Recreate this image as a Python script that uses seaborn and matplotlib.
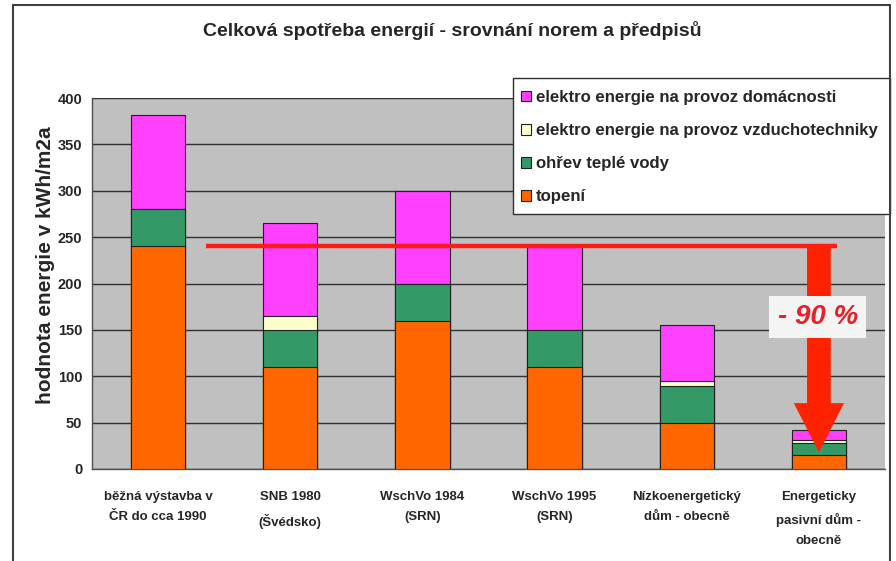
import matplotlib
matplotlib.use("Agg")
import matplotlib.pyplot as plt
from matplotlib.patches import FancyArrow, Patch, Rectangle
from matplotlib.lines import Line2D
import numpy as np
import pandas as pd
import seaborn as sns

# Categories (building standards) and energy components in kWh/m2a
categories = [
    "běžná výstavba v\nČR do cca 1990",
    "SNB 1980\n(Švédsko)",
    "WschVo 1984\n(SRN)",
    "WschVo 1995\n(SRN)",
    "Nízkoenergetický\ndům - obecně",
    "Energeticky\npasivní dům -\nobecně",
]
topeni = [240, 110, 160, 110, 50, 15]
ohrev_vody = [40, 40, 40, 40, 40, 13]
vzduchotechnika = [0, 15, 0, 0, 5, 3]
domacnost = [102, 100, 100, 90, 60, 11]

series_names = [
    "elektro energie na provoz domácnosti",
    "elektro energie na provoz vzduchotechniky",
    "ohřev teplé vody",
    "topení",
]
series_colors = ["#ff40ff", "#ffffcc", "#339966", "#ff6600"]

limit_value = 240
reduction_label = "- 90 %"
y_ticks = [0, 50, 100, 150, 200, 250, 300, 350, 400]

sns.set_style("white")
plt.rcParams["font.family"] = ["Liberation Sans", "DejaVu Sans"]

df = pd.DataFrame({
    "kategorie": categories,
    "topeni": topeni,
    "ohrev": ohrev_vody,
    "vzt": vzduchotechnika,
    "dom": domacnost,
})
# cumulative stack heights, drawn from the tallest layer downwards
df["c_topeni"] = df["topeni"]
df["c_ohrev"] = df["c_topeni"] + df["ohrev"]
df["c_vzt"] = df["c_ohrev"] + df["vzt"]
df["c_dom"] = df["c_vzt"] + df["dom"]
layers = ["c_dom", "c_vzt", "c_ohrev", "c_topeni"]

W, H = 896, 561
fig = plt.figure(figsize=(W / 100, H / 100), dpi=100)
ax = fig.add_axes([92 / W, 1 - 469 / H, (885 - 92) / W, (469 - 98) / H])
ax.set_facecolor("#c0c0c0")

for col, color in zip(layers, series_colors):
    sns.barplot(data=df, x="kategorie", y=col, color=color, width=0.41,
                edgecolor="#202020", linewidth=0.8, saturation=1, ax=ax,
                zorder=3)

ax.set_ylim(0, 400)
ax.set_xlim(-0.5, len(categories) - 0.5)
ax.set_yticks(y_ticks)
ax.set_yticklabels([str(v) for v in y_ticks], fontsize=10.5, fontweight="bold")
ax.yaxis.grid(True, color="#303030", linewidth=1.0, zorder=1)
ax.set_axisbelow(True)

# category labels between boundary ticks
ax.set_xticks(np.arange(len(categories)))
ax.set_xticklabels(categories, fontsize=9.5, fontweight="bold", linespacing=1.9)
ax.tick_params(axis="x", length=0, pad=16)
ax.set_xticks(np.arange(len(categories) + 1) - 0.5, minor=True)
ax.tick_params(axis="x", which="minor", length=4, color="#404040", direction="out")
ax.tick_params(axis="y", length=4, color="#404040", direction="out", pad=3)
ax.set_xlabel("")
ax.set_ylabel("hodnota energie v kWh/m2a", fontsize=15, fontweight="bold")
ax.yaxis.set_label_coords(-0.047, 0.55)

for side in ["left", "bottom"]:
    ax.spines[side].set_color("#505050")
    ax.spines[side].set_linewidth(1.0)
for side in ["top", "right"]:
    ax.spines[side].set_visible(False)

# limit line and reduction arrow
ax.plot([0.36, 5.14], [limit_value, limit_value], color="#ff1a1a", linewidth=3.2,
        zorder=5, solid_capstyle="butt")
ax.add_patch(FancyArrow(5.0, limit_value, 0, 18 - limit_value, width=0.18,
                        head_width=0.38, head_length=53, length_includes_head=True,
                        color="#ff2200", zorder=6, linewidth=0))
ax.text(4.99, 164, reduction_label, ha="center", va="center", fontsize=20,
        fontweight="bold", fontstyle="italic", color="#e8202a", zorder=7,
        bbox=dict(boxstyle="square,pad=0.3", facecolor="#f4f4f4", edgecolor="none"))

# legend: box drawn separately so it can span to the chart frame
fig.add_artist(Rectangle((513 / W, 1 - 214 / H), (890 - 513) / W, (214 - 78) / H,
                         transform=fig.transFigure, facecolor="white",
                         edgecolor="#303030", linewidth=1.0, zorder=9))
handles = [Patch(facecolor=c, edgecolor="#202020", linewidth=0.8) for c in series_colors]
leg = fig.legend(handles, series_names, loc="upper left",
                 bbox_to_anchor=(521 / W, 1 - 90 / H), frameon=False,
                 prop={"weight": "bold", "size": 12.1},
                 handlelength=0.6, handleheight=0.6, handletextpad=0.3,
                 labelspacing=1.08, borderpad=0, borderaxespad=0)
leg.set_zorder(10)

fig.suptitle("Celková spotřeba energií - srovnání norem a předpisů",
             x=0.505, y=1 - 30 / H, va="center", fontsize=14, fontweight="bold")

# outer chart frame
frame_kw = dict(transform=fig.transFigure, color="#404040", linewidth=1.5, zorder=11)
fig.add_artist(Line2D([13 / W, 13 / W], [0, 1 - 5 / H], **frame_kw))
fig.add_artist(Line2D([890 / W, 890 / W], [0, 1 - 5 / H], **frame_kw))
fig.add_artist(Line2D([13 / W, 890 / W], [1 - 5 / H, 1 - 5 / H], **frame_kw))

fig.savefig("out.png", dpi=100, facecolor="white")
